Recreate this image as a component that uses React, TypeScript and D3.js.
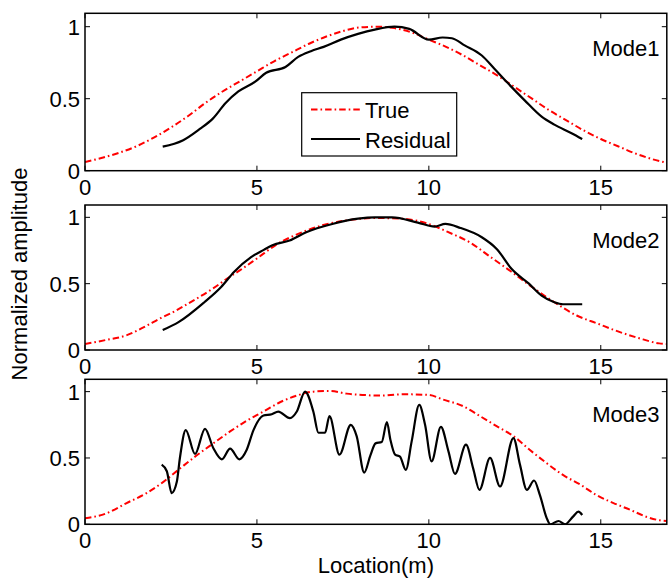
import React from 'react';
import * as d3 from 'd3';

type P = [number, number];

const xTicks = [0, 5, 10, 15];
const yTicks = [0, 0.5, 1];
const modeNames = ['Mode1', 'Mode2', 'Mode3'];
const legendLabels = ['True', 'Residual'];
const xLabel = 'Location(m)';
const yLabel = 'Normalized amplitude';

const mode1True: P[] = [
  [0, 0.06], [0.5, 0.09], [1, 0.125], [1.5, 0.17], [2, 0.23], [2.5, 0.3], [3, 0.38], [3.5, 0.47],
  [4, 0.55], [4.5, 0.62], [5, 0.69], [5.5, 0.76], [6, 0.82], [6.5, 0.88], [7, 0.93], [7.5, 0.97],
  [8, 0.995], [8.5, 1.0], [9, 0.99], [9.5, 0.96], [10, 0.91], [10.5, 0.86], [11, 0.8], [11.5, 0.73],
  [12, 0.66], [12.5, 0.58], [13, 0.5], [13.5, 0.42], [14, 0.35], [14.5, 0.28], [15, 0.22], [15.5, 0.17],
  [16, 0.12], [16.5, 0.08], [16.92, 0.055],
];

const mode1Residual: P[] = [
  [2.26, 0.167], [2.84, 0.21], [3.34, 0.29], [3.71, 0.36], [4.09, 0.47], [4.46, 0.55], [4.96, 0.62],
  [5.27, 0.68], [5.83, 0.72], [6.2, 0.79], [6.57, 0.83], [6.94, 0.86], [7.44, 0.91], [7.94, 0.95],
  [8.43, 0.98], [9.0, 1.0], [9.43, 0.985], [10.0, 0.91], [10.4, 0.925], [10.67, 0.92], [11.04, 0.87],
  [11.54, 0.8], [11.9, 0.71], [12.29, 0.61], [12.78, 0.49], [13.28, 0.375], [13.65, 0.32], [14.15, 0.26],
  [14.46, 0.22],
];

const mode2True: P[] = [
  [0, 0.045], [0.6, 0.075], [1.2, 0.11], [1.7, 0.17], [2.2, 0.24], [2.6, 0.29], [3.0, 0.35], [3.7, 0.46],
  [4.2, 0.55], [4.5, 0.6], [5.0, 0.69], [5.6, 0.8], [6.2, 0.875], [6.9, 0.94], [7.7, 0.98], [8.4, 0.995],
  [9.2, 0.99], [10.0, 0.95], [10.55, 0.89], [11.2, 0.81], [11.8, 0.7], [12.4, 0.59], [13.0, 0.475],
  [13.65, 0.36], [14.3, 0.26], [14.9, 0.2], [15.5, 0.14], [16.1, 0.09], [16.7, 0.05], [16.92, 0.045],
];

const mode2Residual: P[] = [
  [2.26, 0.15], [2.72, 0.21], [3.47, 0.36], [3.96, 0.475], [4.34, 0.59], [4.83, 0.7], [5.2, 0.755],
  [5.45, 0.79], [5.95, 0.825], [6.45, 0.89], [7.19, 0.95], [7.94, 0.99], [8.43, 1.0], [8.93, 1.0],
  [9.68, 0.96], [10.17, 0.93], [10.48, 0.95], [10.92, 0.92], [11.54, 0.85], [11.98, 0.76], [12.41, 0.61],
  [12.91, 0.5], [13.28, 0.41], [13.65, 0.36], [13.9, 0.345], [14.46, 0.345],
];

const mode3True: P[] = [
  [0, 0.045], [0.63, 0.083], [1.21, 0.16], [1.79, 0.235], [2.28, 0.32], [2.76, 0.42], [3.25, 0.52],
  [3.73, 0.61], [4.22, 0.7], [4.7, 0.78], [5.19, 0.85], [5.67, 0.92], [6.16, 0.97], [6.64, 1.0],
  [7.13, 1.005], [7.61, 0.985], [8.1, 0.975], [8.53, 0.97], [9.26, 0.98], [9.99, 0.975], [10.42, 0.94],
  [11.0, 0.89], [11.49, 0.815], [11.97, 0.74], [12.46, 0.665], [12.94, 0.56], [13.43, 0.46], [13.91, 0.37],
  [14.4, 0.3], [14.88, 0.22], [15.37, 0.16], [15.85, 0.11], [16.34, 0.055], [16.72, 0.03], [16.92, 0.025],
];

const mode3Residual: P[] = [
  [2.23, 0.45], [2.38, 0.4], [2.52, 0.235], [2.67, 0.32], [2.76, 0.5], [2.93, 0.71], [3.2, 0.53],
  [3.49, 0.72], [3.73, 0.575], [3.98, 0.49], [4.22, 0.57], [4.49, 0.49], [4.7, 0.56], [4.9, 0.71],
  [5.19, 0.82], [5.43, 0.83], [5.62, 0.85], [5.96, 0.8], [6.16, 0.85], [6.4, 1.0], [6.64, 0.85],
  [6.79, 0.69], [6.98, 0.69], [7.11, 0.815], [7.4, 0.525], [7.73, 0.75], [7.9, 0.665], [8.12, 0.39],
  [8.3, 0.52], [8.45, 0.61], [8.63, 0.62], [8.78, 0.77], [8.88, 0.64], [9.02, 0.525], [9.16, 0.51],
  [9.33, 0.41], [9.5, 0.625], [9.72, 0.9], [9.89, 0.75], [10.08, 0.475], [10.35, 0.735], [10.57, 0.55],
  [10.76, 0.38], [11.08, 0.6], [11.29, 0.42], [11.47, 0.26], [11.78, 0.5], [12.07, 0.285], [12.46, 0.65],
  [12.65, 0.45], [12.85, 0.26], [13.06, 0.33], [13.23, 0.22], [13.43, 0.045], [13.53, 0.0], [13.77, 0.025],
  [13.96, 0.0], [14.2, 0.06], [14.35, 0.095], [14.46, 0.07],
];

const trueSeries = [mode1True, mode2True, mode3True];
const residualSeries = [mode1Residual, mode2Residual, mode3Residual];

const W = 668;
const H = 580;
const LEFT = 85;
const RIGHT = 666.8;
const X_MAX = 16.92;
const Y_MAX = 1.093;
const boxes = [
  { top: 13.3, bottom: 170.7 },
  { top: 205, bottom: 350 },
  { top: 379.3, bottom: 524.3 },
];
const FONT = '"Liberation Sans", Arial, Helvetica, sans-serif';
const FS = 22;
const RED = '#ff0000';
const DASH = '6.5,3,1.6,3';

export default function App() {
  const x = d3.scaleLinear().domain([0, X_MAX]).range([LEFT, RIGHT]);
  const TL = 5;
  return (
    <svg width={W} height={H} style={{ position: 'absolute', left: 0, top: 0, background: '#fff' }}
      fontFamily={FONT} fontSize={FS}>
      <rect x={0} y={0} width={W} height={H} fill="#fff" />
      <defs>
        {boxes.map((b, i) => (
          <clipPath id={`clip${i}`} key={i}>
            <rect x={LEFT} y={b.top} width={RIGHT - LEFT} height={b.bottom - b.top} />
          </clipPath>
        ))}
      </defs>
      {boxes.map((b, i) => {
        const y = d3.scaleLinear().domain([0, Y_MAX]).range([b.bottom, b.top]);
        const line = d3.line<P>().x(d => x(d[0])).y(d => y(d[1])).curve(d3.curveMonotoneX);
        return (
          <g key={i}>
            <rect x={LEFT} y={b.top} width={RIGHT - LEFT} height={b.bottom - b.top} fill="#fff" />
            <g clipPath={`url(#clip${i})`}>
              <path d={line(trueSeries[i]) || ''} fill="none" stroke={RED} strokeWidth={2}
                strokeDasharray={DASH} />
              <path d={line(residualSeries[i]) || ''} fill="none" stroke="#000" strokeWidth={2.2}
                strokeLinejoin="round" />
            </g>
            {xTicks.map(t => (
              <g key={'x' + t}>
                <line x1={x(t)} x2={x(t)} y1={b.bottom} y2={b.bottom - TL} stroke="#000" strokeWidth={1} />
                <line x1={x(t)} x2={x(t)} y1={b.top} y2={b.top + TL} stroke="#000" strokeWidth={1} />
                <text x={x(t)} y={b.bottom + 23.8} textAnchor="middle">{String(t)}</text>
              </g>
            ))}
            {yTicks.map(t => (
              <g key={'y' + t}>
                <line x1={LEFT} x2={LEFT + TL} y1={y(t)} y2={y(t)} stroke="#000" strokeWidth={1} />
                <line x1={RIGHT} x2={RIGHT - TL} y1={y(t)} y2={y(t)} stroke="#000" strokeWidth={1} />
                <text x={LEFT - 5} y={y(t)} dy="0.36em" textAnchor="end">{String(t)}</text>
              </g>
            ))}
            <rect x={LEFT} y={b.top} width={RIGHT - LEFT} height={b.bottom - b.top} fill="none"
              stroke="#000" strokeWidth={1.5} />
            <text x={659.5} y={b.top + 42.5} textAnchor="end">{modeNames[i]}</text>
          </g>
        );
      })}
      <g>
        <rect x={301.7} y={92.7} width={155} height={63.3} fill="#fff" stroke="#000" strokeWidth={1.2} />
        <line x1={311} x2={360} y1={109.5} y2={109.5} stroke={RED} strokeWidth={2} strokeDasharray={DASH} />
        <line x1={311} x2={360} y1={139} y2={139} stroke="#000" strokeWidth={2.2} />
        <text x={365} y={117.5}>{legendLabels[0]}</text>
        <text x={365} y={147.5}>{legendLabels[1]}</text>
      </g>
      <text x={(LEFT + RIGHT) / 2} y={573} textAnchor="middle">{xLabel}</text>
      <text transform="translate(27,274) rotate(-90)" textAnchor="middle">{yLabel}</text>
    </svg>
  );
}
